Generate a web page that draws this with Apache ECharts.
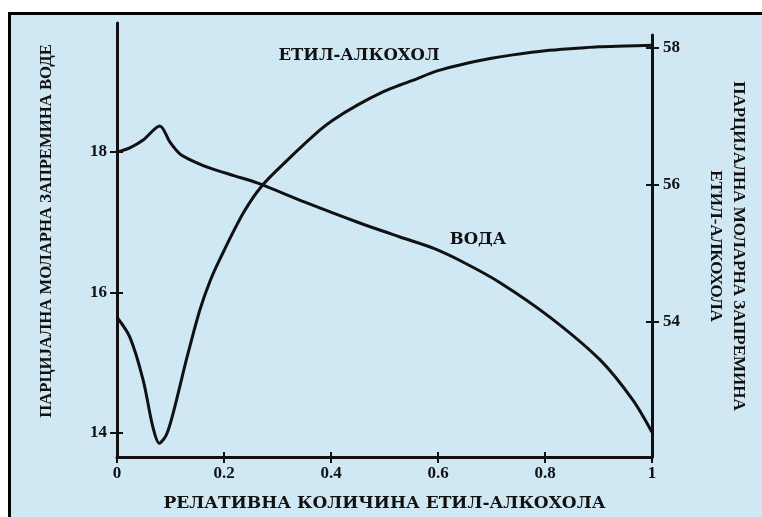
<!DOCTYPE html>
<html>
<head>
<meta charset="utf-8">
<script src="https://cdn.jsdelivr.net/npm/echarts@6/dist/echarts.min.js"></script>
<style>
  html, body { margin: 0; padding: 0; background: #ffffff; width: 762px; height: 517px; overflow: hidden; }
  #frame { position: absolute; left: 8px; top: 12px; width: 760px; height: 510px; background: #cfe8f3; border-left: 3px solid #000; border-top: 3px solid #000; }
  #chart { position: absolute; left: 0; top: 0; width: 762px; height: 517px; }
</style>
</head>
<body>
<div id="frame"></div>
<div id="chart"></div>
<script>
// ---- data ----
const xTicks = [0, 0.2, 0.4, 0.6, 0.8, 1];
const leftTicks = [14, 16, 18];
const rightTicks = [54, 56, 58];

const waterX = [0, 0.024, 0.049, 0.08, 0.099, 0.118, 0.145, 0.174, 0.22, 0.262, 0.35, 0.45, 0.529, 0.591, 0.65, 0.716, 0.809, 0.903, 0.964, 1.0];
const waterY = [18.0, 18.06, 18.17, 18.37, 18.14, 17.97, 17.86, 17.77, 17.66, 17.56, 17.29, 17.0, 16.79, 16.63, 16.42, 16.14, 15.65, 15.04, 14.47, 14.01];

const alcoholX = [0, 0.024, 0.049, 0.067, 0.079, 0.092, 0.105, 0.131, 0.155, 0.174, 0.193, 0.236, 0.271, 0.318, 0.379, 0.404, 0.45, 0.5, 0.529, 0.55, 0.6, 0.65, 0.7, 0.74, 0.8, 0.865, 0.9, 0.95, 1.0];
const alcoholY = [54.07, 53.78, 53.15, 52.47, 52.23, 52.35, 52.67, 53.49, 54.18, 54.60, 54.93, 55.59, 55.99, 56.36, 56.80, 56.95, 57.17, 57.37, 57.46, 57.52, 57.67, 57.77, 57.85, 57.90, 57.96, 58.0, 58.02, 58.03, 58.04];

const xTitle = 'РЕЛАТИВНА КОЛИЧИНА ЕТИЛ-АЛКОХОЛА';
const leftTitle = 'ПАРЦИЈАЛНА МОЛАРНА ЗАПРЕМИНА ВОДЕ';
const rightTitle = 'ПАРЦИЈАЛНА МОЛАРНА ЗАПРЕМИНА\nЕТИЛ-АЛКОХОЛА';
const alcoholLabel = 'ЕТИЛ-АЛКОХОЛ';
const waterLabel = 'ВОДА';

// ---- chart ----
const INK = '#111111';
const FONT = '"Liberation Serif", "Times New Roman", serif';
const WIDE = '"DejaVu Serif", "Liberation Serif", serif';
const zip = (xs, ys) => xs.map((x, i) => [x, ys[i]]);

const labelStyle = { color: INK, fontFamily: FONT, fontWeight: 'bold', fontSize: 17 };
const nameStyle = { color: INK, fontFamily: FONT, fontWeight: 'bold', fontSize: 17, lineHeight: 23 };

const chart = echarts.init(document.getElementById('chart'), null, { renderer: 'canvas' });
chart.setOption({
  backgroundColor: 'transparent',
  animation: false,
  grid: [
    { left: 117, right: 110, top: 23, bottom: 60 },
    { left: 117, right: 110, top: 35, bottom: 60 }
  ],
  xAxis: [
    {
      gridIndex: 0, type: 'value', position: 'bottom', min: xTicks[0], max: xTicks[xTicks.length - 1], interval: 0.2,
      axisLine: { onZero: false, lineStyle: { color: INK, width: 3 } },
      axisTick: { length: 6, lineStyle: { color: INK, width: 2 } },
      axisLabel: Object.assign({ margin: 8 }, labelStyle),
      splitLine: { show: false },
      name: xTitle, nameLocation: 'middle', nameGap: 38,
      nameTextStyle: { color: INK, fontFamily: WIDE, fontWeight: 'bold', fontSize: 17 }
    },
    {
      gridIndex: 0, type: 'value', position: 'bottom', min: xTicks[0], max: xTicks[xTicks.length - 1], interval: 0.2,
      axisLine: { show: false, onZero: false },
      axisTick: { inside: true, length: 5, lineStyle: { color: INK, width: 2 } },
      axisLabel: { show: false }, splitLine: { show: false }
    },
    { gridIndex: 1, type: 'value', min: 0, max: 1, show: false, axisLine: { onZero: false } }
  ],
  yAxis: [
    {
      gridIndex: 0, type: 'value', position: 'left', min: 13.658, max: 19.836,
      axisLine: { show: true, onZero: false, lineStyle: { color: INK, width: 3 } },
      axisTick: { show: true, length: 7, customValues: leftTicks, lineStyle: { color: INK, width: 2 } },
      axisLabel: Object.assign({ margin: 10, customValues: leftTicks }, labelStyle),
      splitLine: { show: false },
      name: leftTitle, nameLocation: 'middle', nameRotate: 90, nameGap: 59,
      nameTextStyle: Object.assign({}, nameStyle, { fontSize: 16.7, padding: [0, 0, 0, 18] })
    },
    {
      gridIndex: 0, type: 'value', position: 'left', min: 13.658, max: 19.836,
      axisLine: { show: false, onZero: false },
      axisTick: { show: true, inside: true, length: 6, customValues: leftTicks, lineStyle: { color: INK, width: 2 } },
      axisLabel: { show: false }, splitLine: { show: false }
    },
    {
      gridIndex: 1, type: 'value', position: 'right', min: 52.03, max: 58.19,
      axisLine: { show: true, onZero: false, lineStyle: { color: INK, width: 3 } },
      axisTick: { show: true, length: 7, customValues: rightTicks, lineStyle: { color: INK, width: 2 } },
      axisLabel: Object.assign({ margin: 11, customValues: rightTicks }, labelStyle),
      splitLine: { show: false },
      name: rightTitle, nameLocation: 'middle', nameRotate: -90, nameGap: 52, nameTextStyle: nameStyle
    },
    {
      gridIndex: 1, type: 'value', position: 'right', min: 52.03, max: 58.19,
      axisLine: { show: false, onZero: false },
      axisTick: { show: true, inside: true, length: 6, customValues: rightTicks, lineStyle: { color: INK, width: 2 } },
      axisLabel: { show: false }, splitLine: { show: false }
    }
  ],
  series: [
    {
      name: waterLabel, type: 'line', xAxisIndex: 0, yAxisIndex: 0,
      data: zip(waterX, waterY), smooth: 0.3, showSymbol: false,
      lineStyle: { color: INK, width: 3 }
    },
    {
      name: alcoholLabel, type: 'line', xAxisIndex: 2, yAxisIndex: 2,
      data: zip(alcoholX, alcoholY), smooth: 0.3, showSymbol: false,
      lineStyle: { color: INK, width: 3 }
    }
  ],
  graphic: [
    { type: 'text', x: 359, y: 56, style: { text: alcoholLabel, fill: INK, font: 'bold 16.5px ' + WIDE, align: 'center', verticalAlign: 'middle' } },
    { type: 'text', x: 478, y: 240, style: { text: waterLabel, fill: INK, font: 'bold 16.5px ' + WIDE, align: 'center', verticalAlign: 'middle' } }
  ]
});
</script>
</body>
</html>
